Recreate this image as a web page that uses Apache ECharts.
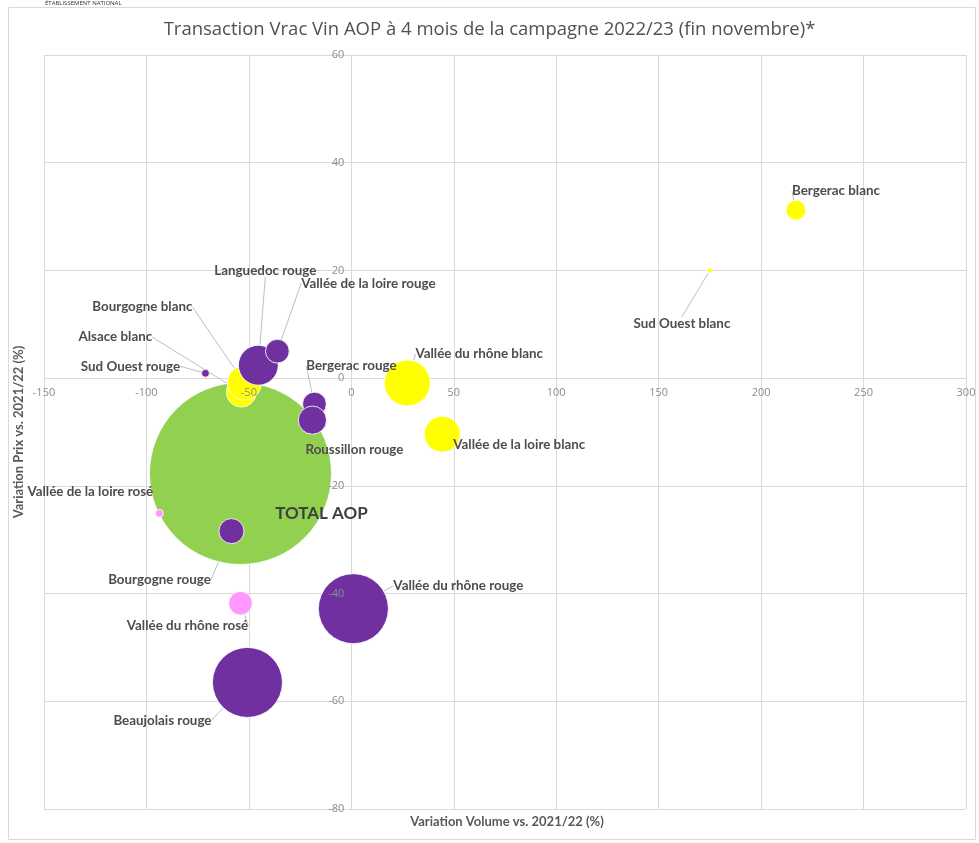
<!DOCTYPE html>
<html>
<head>
<meta charset="utf-8">
<script src="https://cdn.jsdelivr.net/npm/echarts@6/dist/echarts.min.js"></script>
<style>
  html, body { margin: 0; padding: 0; background: #fff; }
  #chart { width: 979px; height: 843px; }
</style>
</head>
<body>
<div id="chart"></div>
<script>
// drawing order: first item is drawn underneath
const names = [
  "TOTAL AOP", "Beaujolais rouge", "Vallée du rhône rouge", "Vallée du rhône blanc",
  "Vallée de la loire blanc", "Alsace blanc", "Bourgogne blanc", "Languedoc rouge",
  "Vallée de la loire rouge", "Bergerac rouge", "Roussillon rouge", "Sud Ouest rouge",
  "Bourgogne rouge", "Vallée de la loire rosé", "Vallée du rhône rosé",
  "Bergerac blanc", "Sud Ouest blanc"
];
const volumeVar = [-54.1, -50.7, 1.0, 27.3, 44.4, -53.7, -52.2, -45.4, -36.1, -18.0, -19.0, -71.2, -58.5, -93.7, -54.1, 217, 175];
const prixVar = [-17.7, -56.5, -42.8, -0.9, -10.4, -2.6, -0.9, 2.4, 5.0, -4.8, -7.8, 0.9, -28.4, -25.1, -41.8, 31.2, 20.0];
// relative bubble weight (volume)
const poids = [100, 14.8, 14.8, 6.4, 3.9, 2.7, 3.5, 4.8, 1.7, 1.7, 2.4, 0.19, 1.9, 0.19, 1.7, 1.2, 0.08];
const types = ["total", "rouge", "rouge", "blanc", "blanc", "blanc", "blanc", "rouge", "rouge", "rouge", "rouge", "rouge", "rouge", "rosé", "rosé", "blanc", "blanc"];

const xTicks = { min: -150, max: 300, interval: 50 };
const yTicks = { min: -80, max: 60, interval: 20 };

const typeColors = { rouge: "#7030A0", blanc: "#FFFF00", "rosé": "#FF99FF", total: "#92D050" };
// label shift from bubble centre, in px
const labelOffsets = [
  [81, 40], [-85, 38], [105, -23], [72, -29], [77, 11], [-126, -55], [-102, -76], [7, -95],
  [91, -68], [37, -38], [42, 30], [-75, -7], [-72, 49], [-69, -22], [-53, 22], [40, -19], [-28, 53]
];

const chart = echarts.init(document.getElementById("chart"));

const gridColor = "#d9d9d9";
const tickColor = "#8c8c8c";
const gridRect = { left: 44, right: 13, top: 55, bottom: 34 };

const data = names.map((n, i) => {
  const item = {
    name: n,
    value: [volumeVar[i], prixVar[i], poids[i]],
    itemStyle: { color: typeColors[types[i]] },
  };
  if (types[i] === "total") {
    item.label = { fontSize: 17, color: "#404040" };
    item.labelLine = { show: false };
  }
  return item;
});

const baseAxis = (t, gridIndex) => ({
  type: "value",
  gridIndex: gridIndex,
  min: t.min,
  max: t.max,
  interval: t.interval,
});

// grid 0: gridlines only, under the bubbles (zero lines are gridlines too)
// grid 1: same rect, carries the series; tick labels moved onto the zero lines, above the bubbles
const lineAxis = (t) => ({
  ...baseAxis(t, 0),
  axisLine: { show: false },
  axisTick: { show: false },
  axisLabel: { show: false },
  splitLine: { lineStyle: { color: gridColor } },
});
const labelAxis = (t, margin) => ({
  ...baseAxis(t, 1),
  z: 10,
  axisLine: { show: false, onZero: false },
  axisTick: { show: false },
  axisLabel: { color: tickColor, fontSize: 11, fontFamily: "Open Sans", margin: margin },
  splitLine: { show: false },
});

chart.setOption({
  backgroundColor: "#fff",
  animation: false,
  title: {
    text: "Transaction Vrac Vin AOP à 4 mois de la campagne 2022/23 (fin novembre)*",
    left: "center",
    top: 15,
    textStyle: { fontFamily: "Open Sans", fontSize: 18.5, fontWeight: "normal", color: "#505050" },
  },
  grid: [gridRect, gridRect],
  xAxis: [lineAxis(xTicks), { ...labelAxis(xTicks, 9), position: "bottom" }],
  yAxis: [lineAxis(yTicks), { ...labelAxis(yTicks, 7), position: "left" }],
  series: [
    {
      type: "scatter",
      xAxisIndex: 1,
      yAxisIndex: 1,
      data: data,
      symbolSize: (v) => Math.sqrt(v[2]) * 18.2,
      itemStyle: { borderColor: "rgba(255,255,255,0.85)", borderWidth: 1, opacity: 1 },
      label: {
        show: true,
        position: "inside",
        formatter: "{b}",
        fontFamily: "Lato",
        fontWeight: "bold",
        fontSize: 13.4,
        color: "#4d4d4d",
      },
      labelLine: {
        show: true,
        lineStyle: { color: "#bfbfbf", width: 1 },
      },
      labelLayout: (params) => {
        const o = labelOffsets[params.dataIndex];
        return { dx: o[0], dy: o[1] };
      },
      emphasis: { disabled: true },
    },
  ],
  graphic: [
    {
      type: "rect",
      shape: { x: 8.5, y: 7.5, width: 967, height: 832 },
      style: { fill: null, stroke: gridColor, lineWidth: 1 },
      silent: true,
    },
    {
      type: "text",
      left: 45,
      top: 0,
      style: { text: "ÉTABLISSEMENT NATIONAL", fontSize: 6, fill: "#333", fontFamily: "Open Sans" },
    },
    {
      type: "text",
      x: 507,
      y: 822,
      style: {
        text: "Variation Volume vs. 2021/22 (%)",
        fontFamily: "Lato",
        fontWeight: "bold",
        fontSize: 13,
        fill: "#595959",
        align: "center",
        verticalAlign: "middle",
      },
    },
    {
      type: "text",
      x: 19,
      y: 432,
      rotation: Math.PI / 2,
      style: {
        text: "Variation Prix vs. 2021/22 (%)",
        fontFamily: "Lato",
        fontWeight: "bold",
        fontSize: 13,
        fill: "#595959",
        align: "center",
        verticalAlign: "middle",
      },
    },
  ],
});

// shift the tick-label axes from the grid edges onto the zero lines
const finder = { xAxisIndex: 1, yAxisIndex: 1 };
const p0 = chart.convertToPixel(finder, [0, 0]);
const pMin = chart.convertToPixel(finder, [xTicks.min, yTicks.min]);
chart.setOption({
  xAxis: [{}, { offset: -(pMin[1] - p0[1]) }],
  yAxis: [{}, { offset: -(p0[0] - pMin[0]) }],
});
</script>
</body>
</html>
